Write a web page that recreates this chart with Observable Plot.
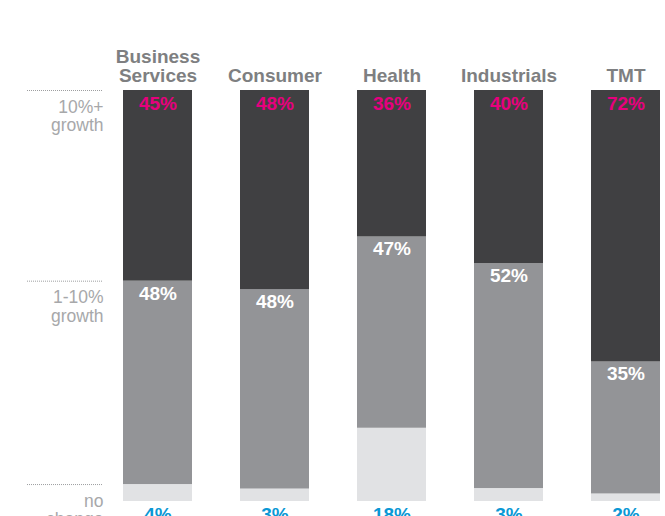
<!DOCTYPE html>
<html>
<head>
<meta charset="utf-8">
<script src="https://cdn.jsdelivr.net/npm/d3@7"></script>
<script src="https://cdn.jsdelivr.net/npm/@observablehq/plot@0.6"></script>
<style>
  body { margin: 0; background: #fff; }
  #chart { width: 665px; height: 516px; overflow: hidden; }
  g[aria-label="level-labels"] text { letter-spacing: 1.5px; }
</style>
</head>
<body>
<div id="chart"></div>
<script>
// ---- data ----
const categories = ["Business Services", "Consumer", "Health", "Industrials", "TMT"];
const levels = ["no change", "1-10% growth", "10%+ growth"];
const levelLabels = ["no\nchange", "1-10%\ngrowth", "10%+\ngrowth"];
const noChange = [4, 3, 18, 3, 2];
const growth1to10 = [48, 48, 47, 52, 35];
const growth10plus = [45, 48, 36, 40, 72];

// ---- derived tables ----
const series = [noChange, growth1to10, growth10plus];
const rows = categories.flatMap((cat, i) =>
  levels.map((level, k) => ({cat, level, value: series[k][i]}))
);
// guide levels on the left follow the first bar's segment tops
const refTotal = d3.sum(series, s => s[0]);
const guides = levels.map((level, k) => ({
  label: levelLabels[k],
  y: d3.sum(series.slice(0, k + 1), s => s[0]) / refTotal
}));

const font = "'Liberation Sans', Arial, Helvetica, sans-serif";
const stack = {x: "cat", y: "value", z: "level", order: levels, offset: "normalize"};

const chart = Plot.plot({
  width: 665,
  height: 516,
  marginTop: 90,
  marginBottom: 15,
  marginLeft: 122,
  marginRight: 3,
  style: {fontFamily: font, background: "#fff", overflow: "hidden"},
  x: {domain: categories, paddingInner: 0.41, paddingOuter: 0, axis: null},
  y: {domain: [0, 1], axis: null},
  color: {domain: levels, range: ["#e1e2e4", "#939497", "#404042"]},
  marks: [
    Plot.barY(rows, Plot.stackY({...stack, fill: "level"})),
    // top-of-segment labels
    Plot.text(rows, Plot.stackY2({...stack,
      text: d => d.level === "10%+ growth" ? d.value + "%" : "",
      lineAnchor: "top", dy: 6, fontSize: 19, fontWeight: "bold", fill: "#e6007e"})),
    Plot.text(rows, Plot.stackY2({...stack,
      text: d => d.level === "1-10% growth" ? d.value + "%" : "",
      lineAnchor: "top", dy: 5, fontSize: 19, fontWeight: "bold", fill: "#ffffff"})),
    // below-bar labels
    Plot.text(rows, Plot.stackY1({...stack,
      text: d => d.level === "no change" ? d.value + "%" : "",
      lineAnchor: "top", dy: 6, fontSize: 19, fontWeight: "bold", fill: "#0a98d5"})),
    // category titles
    Plot.text(categories, {
      x: d => d, y: () => 1, text: d => d.replace(" ", "\n"),
      lineAnchor: "bottom", dy: -9, lineHeight: 1.0,
      fontSize: 19, fontWeight: "bold", fill: "#7e7f81"
    }),
    // left guide lines and labels
    Plot.ruleY(guides, {y: "y", insetLeft: -95, insetRight: 559,
      stroke: "#9d9ea0", strokeDasharray: "1,1", strokeWidth: 1}),
    Plot.text(guides, {
      ariaLabel: "level-labels",
      frameAnchor: "left", y: "y", text: "label",
      textAnchor: "end", dx: -19, lineAnchor: "top", dy: 9, lineHeight: 1.06,
      fontSize: 17.5, fill: "#a7a8aa"
    })
  ]
});

document.getElementById("chart").appendChild(chart);
</script>
</body>
</html>
